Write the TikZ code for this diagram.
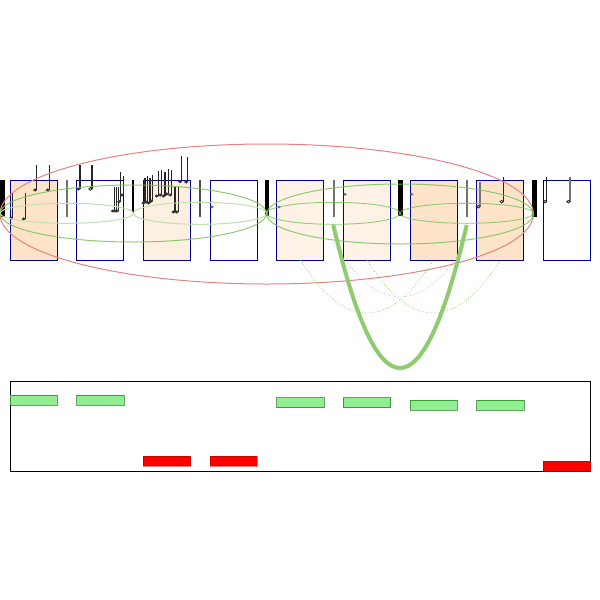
\documentclass[tikz,border=0pt]{standalone}
\usetikzlibrary{calc}
\definecolor{navyb}{RGB}{0,0,140}
\definecolor{peachA}{RGB}{253,228,200}
\definecolor{peachB}{RGB}{254,240,224}
\definecolor{peachC}{RGB}{254,242,230}
\definecolor{grn}{RGB}{120,195,90}
\definecolor{grnlight}{RGB}{190,225,175}
\definecolor{thickgrn}{RGB}{143,204,112}
\definecolor{redell}{RGB}{232,130,130}
\definecolor{pinkd}{RGB}{238,140,238}
\definecolor{barg}{RGB}{144,238,144}
\definecolor{barred}{RGB}{255,0,0}
\tikzset{
  measbox/.style={draw=navyb, line width=1pt},
  notestem/.style={line width=1.2pt, black!85},
  graystem/.style={line width=1.2pt, black!55},
  barline/.style={line width=1.5pt, black!55},
  blackbar/.style={fill=black},
  bigell/.style={draw=grn, line width=1pt, draw opacity=0.85},
  smallell/.style={draw=grnlight, line width=1pt},
  smallellB/.style={draw=grn, line width=0.9pt, draw opacity=0.8},
  redellipse/.style={draw=redell, line width=1pt},
  dotarc/.style={draw=grn, dotted, line width=0.7pt},
  pinkarc/.style={draw=pinkd, dotted, line width=0.7pt},
  thickarc/.style={draw=thickgrn, line width=4pt},
  gbar/.style={fill=barg, draw=green!40!black, draw opacity=0.6, line width=1pt},
  rbar/.style={fill=barred, draw=red!60!black, draw opacity=0.5, line width=1pt},
  panel/.style={draw=black, line width=1pt},
}
\newcommand\mynote[4][filled]{%
  \draw[notestem] (#2,#3) -- (#2,#4);
  \ifx\relax#1\relax\else\fi
  \filldraw[black!80, line width=0.4pt] (#2-1.6,#4) ellipse [x radius=1.7pt, y radius=1.3pt];
}
\newcommand\myhollow[4][notestem]{%
  \draw[#1] (#2,#3) -- (#2,#4);
  \draw[black!85, fill=white, line width=0.8pt] (#2-1.6,#4) ellipse [x radius=1.6pt, y radius=1.3pt];
}
\begin{document}
\begin{tikzpicture}[x=1pt,y=-1pt]
\useasboundingbox (0,0) rectangle (600,600);
% measure boxes
\foreach \i/\col in {0/peachA,1/white,2/peachB,3/white,4/peachC,5/peachC,6/peachA,7/peachA,8/white}{
  \pgfmathsetmacro\xl{10+66.667*\i}
  \filldraw[measbox, fill=\col] (\xl,180) rectangle ++(47.3,80);
}
% black bars
\fill[blackbar] (0,180) rectangle (5,217);
\fill[blackbar] (264.5,180) rectangle (269,216);
\fill[blackbar] (398.3,180) rectangle (402.7,216);
\fill[blackbar] (531.7,180) rectangle (536.7,217);
% bar lines
\draw[barline] (67,180) -- (67,217);
\draw[line width=1.5pt, black] (133,180) -- (133,213);
\draw[line width=1.5pt, black!70] (200,180) -- (200,217);
\draw[barline] (334,180) -- (334,217);
\draw[barline] (467,180) -- (467,217);
% notes left
\mynote{12.7}{193}{218}
\mynote{25.3}{193}{219}
\mynote{36.7}{165}{190}
\mynote{49.3}{165}{190}
\mynote{80}{165}{189}
\myhollow{92}{165}{189}
% cluster A
\mynote{114.5}{187}{211}
\mynote{116.5}{187}{211}
\mynote{118.5}{187}{211}
\mynote{120.7}{172}{201.7}
\mynote{123.5}{176}{195}
% cluster B
\foreach \sx/\st/\sb in {145/178/203,147.7/176/202,150/178/203,152.7/175/201,158.3/171/196,161.7/170/195,165/172/196,168.3/169/194,171.7/170/195,175/187/212,178.3/187/212,181.7/156/181.7,187.7/157/182}{
  \mynote{\sx}{\st}{\sb}
}
% single heads
\fill[black!60] (212,207) ellipse [x radius=1.8pt, y radius=1.4pt];
\fill[black!60] (279,207) ellipse [x radius=1.8pt, y radius=1.4pt];
\fill[black!60] (345,194.3) ellipse [x radius=1.8pt, y radius=1.4pt];
\fill[black!60] (411.7,194.3) ellipse [x radius=1.8pt, y radius=1.4pt];
% notes right
\myhollow[graystem]{480}{181.7}{206.7}
\myhollow{503.3}{176.7}{201.7}
\myhollow{546.7}{176.7}{201.7}
\myhollow[graystem]{570}{176.7}{201.7}
% ellipses
\draw[redellipse] (266.7,214) ellipse [x radius=266.7pt, y radius=70pt];
\draw[bigell] (133.3,213.5) ellipse [x radius=133.3pt, y radius=28.5pt];
\draw[bigell] (400,214) ellipse [x radius=133.3pt, y radius=30pt];
\draw[smallell] (66.7,213.3) ellipse [x radius=66.7pt, y radius=10pt];
\draw[smallell] (200,213.3) ellipse [x radius=66.7pt, y radius=11pt];
\draw[smallellB] (333.3,213.3) ellipse [x radius=66.7pt, y radius=11pt];
\draw[smallellB] (466.7,213.3) ellipse [x radius=66.7pt, y radius=10pt];
% arcs below
\draw[dotarc] (300.5,260) .. controls (344.9,330.7) and (389.3,330.7) .. (433.7,260);
\draw[dotarc] (367,260) .. controls (411.4,330.7) and (455.8,330.7) .. (500.3,260);
\draw[pinkarc] (333.3,243) .. controls (377.7,315) and (422.2,315) .. (466.7,243);
\draw[thickarc] (333.3,225) .. controls (377.7,415.7) and (422.3,415.7) .. (466.7,225);
% bottom panel
\draw[panel] (10,381) rectangle (590.7,471);
\draw[gbar] (10,395) rectangle (57.3,405);
\draw[gbar] (76.7,395) rectangle (124,405);
\draw[gbar] (276.7,397.5) rectangle (324,407.5);
\draw[gbar] (343.3,397.5) rectangle (390.7,407.5);
\draw[gbar] (410,400.3) rectangle (457.3,410.3);
\draw[gbar] (476.7,400.3) rectangle (524,410.3);
\draw[rbar] (143.3,456) rectangle (190.7,466);
\draw[rbar] (210,456) rectangle (257.3,466);
\draw[rbar] (543.3,461) rectangle (590.7,471);
\end{tikzpicture}
\end{document}
